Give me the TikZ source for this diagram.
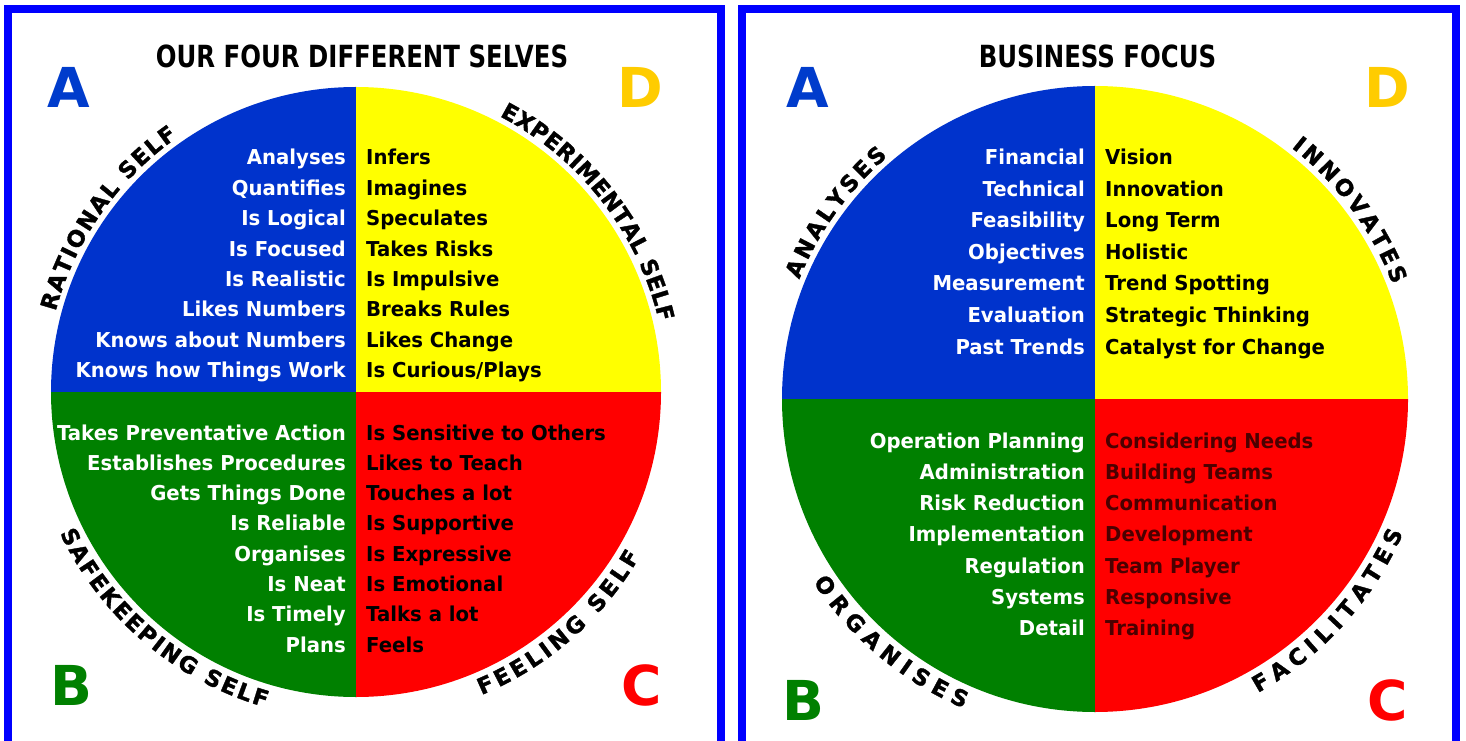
\documentclass[tikz,border=0pt]{standalone}
\usepackage{fontspec}
\usetikzlibrary{decorations.text}
\newfontfamily\listfont{DejaVu Sans}[FakeStretch=0.96]
\newfontfamily\titlefont{DejaVu Sans}[FakeStretch=0.8]
\newfontfamily\bigfont{DejaVu Sans}
\newfontfamily\arcfont{DejaVu Sans}[FakeBold=1.5]
\newcommand\arcstyle{\arcfont\bfseries\fontsize{22.5}{22.5}\selectfont}
\definecolor{qblue}{RGB}{0,51,204}
\definecolor{qyellow}{RGB}{255,255,0}
\definecolor{qgreen}{RGB}{0,128,0}
\definecolor{qred}{RGB}{255,0,0}
\definecolor{frame}{RGB}{0,0,255}
\definecolor{lettA}{RGB}{0,60,204}
\definecolor{lettD}{RGB}{255,204,0}
\definecolor{darkred}{RGB}{75,0,0}
\tikzset{
  x=1pt, y=1pt,
  border/.style={draw=frame, line width=8pt, line join=miter},
  listL/.style={anchor=base east, inner sep=0pt, text=white, font=\listfont\bfseries\fontsize{20.5}{24}\selectfont},
  listR/.style={anchor=base west, inner sep=0pt, text=black, font=\listfont\bfseries\fontsize{20.5}{24}\selectfont},
  title/.style={anchor=base, inner sep=0pt, font=\titlefont\bfseries\fontsize{30.5}{30}\selectfont},
  bigletter/.style={anchor=base, inner sep=0pt, font=\bigfont\bfseries\fontsize{55}{55}\selectfont},
  arclabel/.style={decorate, decoration={text along path, text={|\arcstyle|#1}, text align={fit to path}}}
}
\begin{document}
\begin{tikzpicture}
\useasboundingbox (0,0) rectangle (1466,740);
\clip (0,0) rectangle (1466,740);
\fill[white] (0,0) rectangle (1466,740);
% frames
\draw[border] (7.5,-20) -- (7.5,731) -- (721,731) -- (721,-20);
\draw[border] (742,-20) -- (742,731) -- (1456,731) -- (1456,-20);

% ===== left panel =====
\coordinate (c1) at (356,348);
\fill[qblue]   (c1) -- ++(0,305) arc[start angle=90, end angle=180, radius=305] -- cycle;
\fill[qyellow] (c1) -- ++(305,0) arc[start angle=0, end angle=90, radius=305] -- cycle;
\fill[qgreen]  (c1) -- ++(-305,0) arc[start angle=180, end angle=270, radius=305] -- cycle;
\fill[qred]    (c1) -- ++(0,-305) arc[start angle=270, end angle=360, radius=305] -- cycle;

\node[title] (t1) at (362,672) {OUR FOUR DIFFERENT SELVES};
\node[bigletter, text=lettA] (A1) at (69,632) {A};
\node[bigletter, text=lettD] (D1) at (640,632) {D};
\node[bigletter, text=qgreen] (B1) at (71,35) {B};
\node[bigletter, text=qred] (C1) at (642,35) {C};

\foreach \t [count=\i from 0] in {Analyses,Quantifies,Is Logical,Is Focused,Is Realistic,Likes Numbers,Knows about Numbers,Knows how Things Work}
  \node[listL] (la\i) at (346,575-30.4*\i) {\t};
\foreach \t [count=\i from 0] in {Infers,Imagines,Speculates,Takes Risks,Is Impulsive,Breaks Rules,Likes Change,Is Curious/Plays}
  \node[listR] (ld\i) at (366,575-30.4*\i) {\t};
\foreach \t [count=\i from 0] in {Takes Preventative Action,Establishes Procedures,Gets Things Done,Is Reliable,Organises,Is Neat,Is Timely,Plans}
  \node[listL] (lb\i) at (346,300-30.3*\i) {\t};
\foreach \t [count=\i from 0] in {Is Sensitive to Others,Likes to Teach,Touches a lot,Is Supportive,Is Expressive,Is Emotional,Talks a lot,Feels}
  \node[listR] (lc\i) at (366,300-30.3*\i) {\t};

\path[arclabel={RATIONAL SELF}] ([shift={(165:311)}]c1) arc[start angle=165, end angle=125, radius=311];
\path[arclabel={EXPERIMENTAL SELF}] ([shift={(62.5:311)}]c1) arc[start angle=62.5, end angle=13, radius=311];
\path[arclabel={SAFEKEEPING SELF}] ([shift={(205.5:328)}]c1) arc[start angle=205.5, end angle=254, radius=328];
\path[arclabel={FEELING SELF}] ([shift={(292.5:328)}]c1) arc[start angle=292.5, end angle=330, radius=328];

% ===== right panel =====
\coordinate (c2) at (1095,341);
\fill[qblue]   (c2) -- ++(0,313) arc[start angle=90, end angle=180, radius=313] -- cycle;
\fill[qyellow] (c2) -- ++(313,0) arc[start angle=0, end angle=90, radius=313] -- cycle;
\fill[qgreen]  (c2) -- ++(-313,0) arc[start angle=180, end angle=270, radius=313] -- cycle;
\fill[qred]    (c2) -- ++(0,-313) arc[start angle=270, end angle=360, radius=313] -- cycle;

\node[title] (t2) at (1097.5,672) {BUSINESS FOCUS};
\node[bigletter, text=lettA] (A2) at (808,632) {A};
\node[bigletter, text=lettD] (D2) at (1387,632) {D};
\node[bigletter, text=qgreen] (B2) at (803,20) {B};
\node[bigletter, text=qred] (C2) at (1388,20) {C};

\foreach \t [count=\i from 0] in {Financial,Technical,Feasibility,Objectives,Measurement,Evaluation,Past Trends}
  \node[listL] (ra\i) at (1085,575-31.5*\i) {\t};
\foreach \t [count=\i from 0] in {Vision,Innovation,Long Term,Holistic,Trend Spotting,Strategic Thinking,Catalyst for Change}
  \node[listR] (rd\i) at (1105,575-31.5*\i) {\t};
\foreach \t [count=\i from 0] in {Operation Planning,Administration,Risk Reduction,Implementation,Regulation,Systems,Detail}
  \node[listL] (rb\i) at (1085,292-31.3*\i) {\t};
\foreach \t [count=\i from 0] in {Considering Needs,Building Teams,Communication,Development,Team Player,Responsive,Training}
  \node[listR, text=darkred] (rc\i) at (1105,292-31.3*\i) {\t};

\path[arclabel={ANALYSES}] ([shift={(158:319)}]c2) arc[start angle=158, end angle=130.5, radius=319];
\path[arclabel={INNOVATES}] ([shift={(52:319)}]c2) arc[start angle=52, end angle=21, radius=319];
\path[arclabel={ORGANISES}] ([shift={(213:336)}]c2) arc[start angle=213, end angle=247, radius=336];
\path[arclabel={FACILITATES}] ([shift={(299:336)}]c2) arc[start angle=299, end angle=336.5, radius=336];
\end{tikzpicture}
\end{document}
